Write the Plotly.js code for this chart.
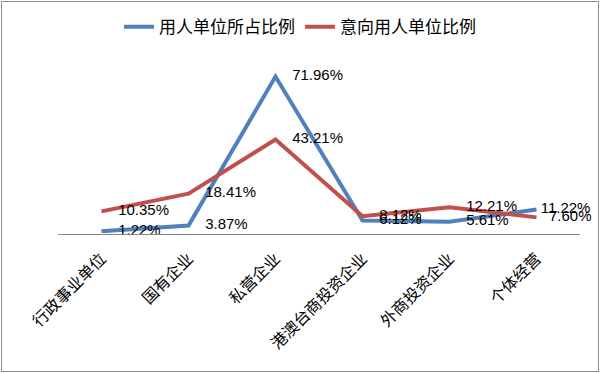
<!DOCTYPE html>
<html>
<head>
<meta charset="utf-8">
<script src="https://cdn.plot.ly/plotly-3.0.1.min.js"></script>
<style>
  html, body { margin: 0; padding: 0; background: #fff; }
  #wrap { position: relative; width: 600px; height: 373px; }
  #chart { width: 600px; height: 373px; }
  #frame { position: absolute; left: 1px; top: 1px; width: 598px; height: 371px;
           box-sizing: border-box; border: 1px solid #8c8c8c; pointer-events: none; }
</style>
</head>
<body>
<div id="wrap"><div id="chart"></div><div id="frame"></div></div>
<script>
const categories = ["行政事业单位", "国有企业", "私营企业", "港澳台商投资企业", "外商投资企业", "个体经营"];
const employerShare = [1.22, 3.87, 71.96, 6.12, 5.61, 11.22];
const intendedShare = [10.35, 18.41, 43.21, 8.12, 12.21, 7.60];
const seriesNames = ["用人单位所占比例", "意向用人单位比例"];

// label spacing (non-breaking spaces); the last labels are pulled in to fit the chart
function labels(values, lastPad) {
  return values.map((v, i) => {
    const n = i === values.length - 1 ? lastPad : 4;
    return "\u00a0".repeat(n) + v.toFixed(2) + "%";
  });
}

const cjk = '"Noto Sans CJK SC", "Noto Sans", sans-serif';
const num = '"Liberation Sans", Arial, sans-serif';

const traces = [
  {
    x: categories, y: employerShare, name: seriesNames[0],
    type: "scatter", mode: "lines+text",
    line: { color: "#4F81BD", width: 4 },
    text: labels(employerShare, 1), textposition: "middle right",
    textfont: { family: num, size: 15, color: "#000" },
    hoverinfo: "skip", cliponaxis: false
  },
  {
    x: categories, y: intendedShare, name: seriesNames[1],
    type: "scatter", mode: "lines+text",
    line: { color: "#C0504D", width: 4 },
    text: labels(intendedShare, 3), textposition: "middle right",
    textfont: { family: num, size: 15, color: "#000" },
    hoverinfo: "skip", cliponaxis: false
  }
];

const layout = {
  width: 600, height: 373,
  margin: { l: 58, r: 20, t: 59, b: 139 },
  paper_bgcolor: "#fff", plot_bgcolor: "#fff",
  showlegend: true,
  legend: {
    orientation: "h", x: 0.5, xanchor: "center", xref: "container",
    y: 0.927, yref: "container", yanchor: "middle",
    font: { family: cjk, size: 17, color: "#000" },
    itemwidth: 30, tracegroupgap: 0
  },
  xaxis: {
    type: "category", range: [-0.5, 5.5],
    showline: true, linecolor: "#868686", linewidth: 1,
    ticks: "", showgrid: false, zeroline: false,
    tickangle: -45, ticklabelstandoff: 8,
    tickfont: { family: cjk, size: 16, color: "#000" }
  },
  yaxis: {
    range: [0, 80], visible: false, showgrid: false, zeroline: false
  }
};

Plotly.newPlot("chart", traces, layout, { displayModeBar: false, staticPlot: true });
</script>
</body>
</html>
